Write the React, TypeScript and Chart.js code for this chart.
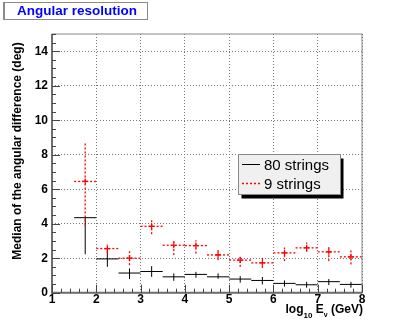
import React, { useEffect, useRef } from "react";
import { Chart, registerables } from "chart.js";

Chart.register(...registerables);

// ---- data ----
const binCenters = [1.75, 2.25, 2.75, 3.25, 3.75, 4.25, 4.75, 5.25, 5.75, 6.25, 6.75, 7.25, 7.75];
const binHalfWidth = 0.25;

const strings80 = [4.35, 1.96, 1.14, 1.23, 0.92, 1.06, 0.92, 0.79, 0.71, 0.54, 0.46, 0.64, 0.48];
const strings80Low = [2.23, 1.5, 0.79, 0.92, 0.69, 0.87, 0.81, 0.58, 0.48, 0.36, 0.29, 0.44, 0.29];
const strings80High = [4.35, 2.5, 1.41, 1.54, 1.12, 1.21, 1.12, 0.96, 0.91, 0.71, 0.63, 0.79, 0.63];

const strings9 = [6.45, 2.56, 2.0, 3.85, 2.75, 2.73, 2.19, 1.89, 1.73, 2.31, 2.6, 2.37, 2.08];
const strings9Low = [3.9, 2.27, 1.6, 3.39, 2.18, 2.27, 1.89, 1.5, 1.44, 1.83, 2.37, 1.83, 1.64];
const strings9High = [8.75, 2.79, 2.41, 4.2, 3.08, 3.04, 2.52, 2.08, 2.08, 2.62, 2.91, 2.66, 2.47];

const xTicks = [1, 2, 3, 4, 5, 6, 7, 8];
const yTicks = [0, 2, 4, 6, 8, 10, 12, 14];
const seriesNames = ["80 strings", "9 strings"];
const chartTitle = "Angular resolution";
const yTitle = "Median of the angular difference (deg)";

const FONT = "'Liberation Sans', Arial, Helvetica, sans-serif";

function drawBins(ctx: CanvasRenderingContext2D, chart: any, vals: number[], lo: number[], hi: number[], color: string, dash: number[], lw: number) {
  const xs = chart.scales.x;
  const ys = chart.scales.y;
  ctx.save();
  ctx.strokeStyle = color;
  ctx.lineWidth = lw;
  ctx.setLineDash(dash);
  for (let i = 0; i < binCenters.length; i++) {
    const c = binCenters[i];
    const x0 = xs.getPixelForValue(c - binHalfWidth);
    const x1 = xs.getPixelForValue(c + binHalfWidth);
    const xc = xs.getPixelForValue(c);
    const y = ys.getPixelForValue(vals[i]);
    ctx.beginPath();
    ctx.moveTo(x0, y);
    ctx.lineTo(x1, y);
    ctx.stroke();
    ctx.beginPath();
    ctx.moveTo(xc, ys.getPixelForValue(lo[i]));
    ctx.lineTo(xc, ys.getPixelForValue(hi[i]));
    ctx.stroke();
  }
  ctx.restore();
}

const rootPlugin = {
  id: "rootStyle",
  beforeDatasetsDraw(chart: any) {
    const ctx = chart.ctx;
    drawBins(ctx, chart, strings80, strings80Low, strings80High, "#000000", [], 1);
    drawBins(ctx, chart, strings9, strings9Low, strings9High, "#ff0000", [2, 2], 1.3);
  },
  afterDraw(chart: any) {
    const ctx: CanvasRenderingContext2D = chart.ctx;
    const a = chart.chartArea;
    const xs = chart.scales.x;
    const ys = chart.scales.y;
    ctx.save();
    // frame
    ctx.strokeStyle = "#888888";
    ctx.lineWidth = 1;
    ctx.strokeRect(a.left, a.top, a.right - a.left, a.bottom - a.top);
    // axis lines
    ctx.strokeStyle = "#6e6e6e";
    ctx.lineWidth = 2;
    ctx.beginPath();
    ctx.moveTo(a.left, a.top);
    ctx.lineTo(a.left, a.bottom);
    ctx.lineTo(a.right, a.bottom);
    ctx.stroke();
    // inward ticks
    ctx.strokeStyle = "#444444";
    ctx.lineWidth = 1;
    ctx.beginPath();
    for (let k = 0; k <= 30; k++) {
      const v = k * 0.5;
      const y = Math.round(ys.getPixelForValue(v)) + 0.5;
      const len = k % 4 === 0 ? 8 : 4;
      ctx.moveTo(a.left, y);
      ctx.lineTo(a.left + len, y);
    }
    for (let k = 0; k <= 35; k++) {
      const v = 1 + k * 0.2;
      const x = Math.round(xs.getPixelForValue(v)) + 0.5;
      const len = k % 5 === 0 ? 8 : 4;
      ctx.moveTo(x, a.bottom);
      ctx.lineTo(x, a.bottom - len);
    }
    ctx.stroke();

    // y title
    ctx.fillStyle = "#000";
    ctx.font = `bold 12px ${FONT}`;
    ctx.textAlign = "center";
    ctx.textBaseline = "middle";
    ctx.save();
    ctx.translate(17.5, 151);
    ctx.rotate(-Math.PI / 2);
    ctx.fillText(yTitle, 0, 0);
    ctx.restore();

    // x title: log10 Eν (GeV), right aligned at frame right
    const parts: [string, string, number][] = [
      ["log", `bold 12px ${FONT}`, 0],
      ["10", `bold 8px ${FONT}`, 5],
      [" E", `bold 12px ${FONT}`, 0],
      ["\u03bd", `bold 7px ${FONT}`, 4],
      [" (GeV)", `bold 12px ${FONT}`, 0],
    ];
    let total = 0;
    for (const p of parts) {
      ctx.font = p[1];
      total += ctx.measureText(p[0]).width;
    }
    let xx = a.right - total + 1;
    ctx.textAlign = "left";
    ctx.textBaseline = "alphabetic";
    for (const p of parts) {
      ctx.font = p[1];
      ctx.fillText(p[0], xx, 313 + p[2]);
      xx += ctx.measureText(p[0]).width;
    }

    // title box
    ctx.fillStyle = "#ffffff";
    ctx.fillRect(3.5, 2.5, 144, 17);
    ctx.strokeStyle = "#8a8a8a";
    ctx.lineWidth = 1;
    ctx.strokeRect(3.5, 2.5, 144, 17);
    ctx.fillStyle = "#8a8a8a";
    ctx.fillRect(3, 2, 2, 18);
    ctx.fillStyle = "#0000ff";
    ctx.font = `bold 13.5px ${FONT}`;
    ctx.textAlign = "center";
    ctx.textBaseline = "alphabetic";
    ctx.fillText(chartTitle, 77, 14.5);

    // legend
    const lx = 238.5, ly = 154.5, lw = 102, lh = 40;
    ctx.fillStyle = "#000";
    ctx.fillRect(lx + 3, ly + 4, lw, lh);
    ctx.fillStyle = "#f0f0f0";
    ctx.fillRect(lx, ly, lw, lh);
    ctx.strokeStyle = "#888888";
    ctx.lineWidth = 1;
    ctx.strokeRect(lx, ly, lw, lh);
    ctx.strokeStyle = "#000";
    ctx.beginPath();
    ctx.moveTo(242, 164.5);
    ctx.lineTo(260, 164.5);
    ctx.stroke();
    ctx.strokeStyle = "#ff0000";
    ctx.lineWidth = 1.5;
    ctx.setLineDash([2, 2]);
    ctx.beginPath();
    ctx.moveTo(242, 183.5);
    ctx.lineTo(260, 183.5);
    ctx.stroke();
    ctx.setLineDash([]);
    ctx.fillStyle = "#000";
    ctx.font = `15px ${FONT}`;
    ctx.textAlign = "left";
    ctx.textBaseline = "alphabetic";
    ctx.fillText(seriesNames[0], 264, 169.5);
    ctx.fillText(seriesNames[1], 264, 188.5);
    ctx.restore();
  },
};

export default function App() {
  const ref = useRef<HTMLCanvasElement>(null);
  useEffect(() => {
    if (!ref.current) return;
    const chart = new Chart(ref.current, {
      type: "scatter",
      data: {
        datasets: [
          {
            label: seriesNames[0],
            data: binCenters.map((x, i) => ({ x, y: strings80[i] })),
            pointRadius: 0,
            borderColor: "#000",
            backgroundColor: "#000",
            showLine: false,
          },
          {
            label: seriesNames[1],
            data: binCenters.map((x, i) => ({ x, y: strings9[i] })),
            pointStyle: "cross",
            pointRadius: 3,
            borderWidth: 1.2,
            borderColor: "#ff0000",
            backgroundColor: "#ff0000",
            showLine: false,
          },
        ],
      },
      options: {
        animation: false,
        responsive: false,
        devicePixelRatio: 1,
        events: [],
        layout: { padding: { top: 34, right: 53, left: 0, bottom: 0 } },
        plugins: { legend: { display: false }, title: { display: false }, tooltip: { enabled: false } },
        scales: {
          x: {
            type: "linear",
            min: 1,
            max: 8,
            afterBuildTicks: (s: any) => {
              s.ticks = xTicks.map((v) => ({ value: v }));
            },
            afterFit: (s: any) => {
              s.height = 36.3;
            },
            grid: { color: "#777777", lineWidth: 1, drawTicks: false },
            border: { display: false, dash: [1, 2] },
            ticks: {
              color: "#000",
              font: { family: FONT, size: 12, weight: "bold" },
              padding: 0,
              maxRotation: 0,
              autoSkip: false,
            },
          },
          y: {
            type: "linear",
            min: 0,
            max: 15,
            afterBuildTicks: (s: any) => {
              s.ticks = yTicks.map((v) => ({ value: v }));
            },
            afterFit: (s: any) => {
              s.width = 52;
            },
            grid: { color: "#777777", lineWidth: 1, drawTicks: false },
            border: { display: false, dash: [1, 2] },
            ticks: {
              color: "#000",
              font: { family: FONT, size: 12, weight: "bold" },
              padding: 4,
              autoSkip: false,
            },
          },
        },
      },
      plugins: [rootPlugin],
    });
    return () => chart.destroy();
  }, []);
  return (
    <div style={{ position: "fixed", left: 0, top: 0, width: 415, height: 329, background: "#fff" }}>
      <canvas ref={ref} width={415} height={329} style={{ width: 415, height: 329 }} />
    </div>
  );
}
